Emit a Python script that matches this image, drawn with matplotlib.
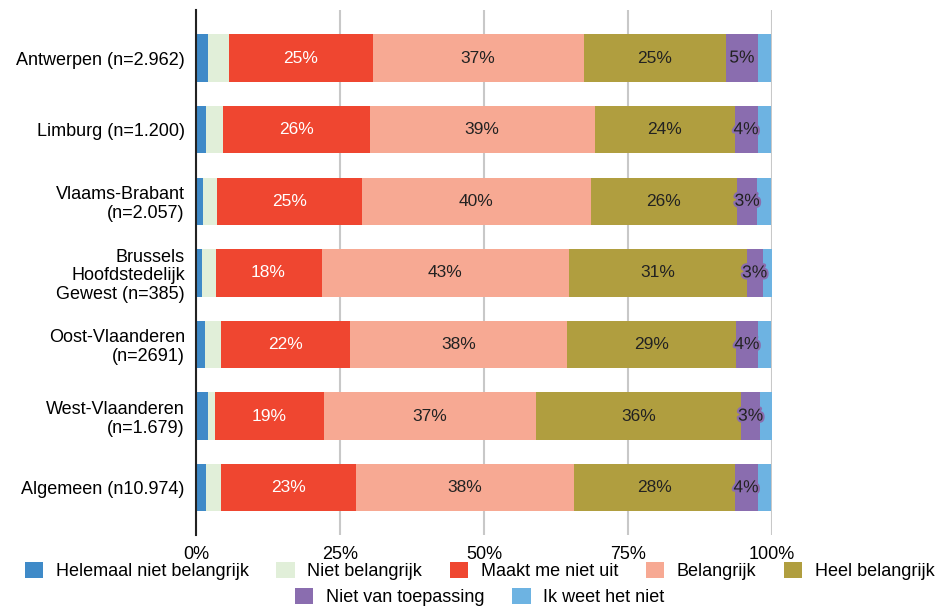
import matplotlib.pyplot as plt
import matplotlib.patheffects as pe
import numpy as np

plt.rcParams['font.family'] = ['Liberation Sans', 'DejaVu Sans']

# ── data (percentages) ──
provincies = [
    "Antwerpen (n=2.962)",
    "Limburg (n=1.200)",
    "Vlaams-Brabant\n(n=2.057)",
    "Brussels\nHoofdstedelijk\nGewest (n=385)",
    "Oost-Vlaanderen\n(n=2691)",
    "West-Vlaanderen\n(n=1.679)",
    "Algemeen (n10.974)",
]
categorieen = [
    "Helemaal niet belangrijk",
    "Niet belangrijk",
    "Maakt me niet uit",
    "Belangrijk",
    "Heel belangrijk",
    "Niet van toepassing",
    "Ik weet het niet",
]
helemaal_niet = [2.1, 1.7, 1.2, 1.0, 1.6, 2.1, 1.7]
niet_belangrijk = [3.6, 3.0, 2.4, 2.4, 2.8, 1.2, 2.6]
maakt_niet_uit = [25.0, 25.5, 25.3, 18.4, 22.4, 18.9, 23.4]
belangrijk = [36.6, 39.0, 39.6, 42.9, 37.6, 36.8, 38.0]
heel_belangrijk = [24.8, 24.3, 25.5, 30.9, 29.3, 35.6, 27.8]
niet_toepassing = [5.4, 4.0, 3.4, 2.8, 3.9, 3.4, 4.0]
weet_niet = [2.4, 2.4, 2.5, 1.6, 2.3, 2.0, 2.3]

reeksen = [helemaal_niet, niet_belangrijk, maakt_niet_uit, belangrijk,
           heel_belangrijk, niet_toepassing, weet_niet]
kleuren = ["#3F8AC8", "#E1EFD9", "#EF4630", "#F7A993",
           "#B09E3F", "#8A6DAF", "#6DB3E2"]

# ── plot ──
fig = plt.figure(figsize=(9.39, 6.07), dpi=100)
ax = fig.add_axes([0.2087, 0.1186, 0.6134, 0.8649])

y = np.arange(len(provincies))
links = np.zeros(len(provincies))
balken = []
for i, (vals, kleur) in enumerate(zip(reeksen, kleuren)):
    vals = np.array(vals)
    b = ax.barh(y, vals, left=links, height=0.66, color=kleur,
                label=categorieen[i], zorder=3)
    balken.append(b)
    # labels enkel op de middelste reeksen
    if i in (2, 3, 4, 5):
        for yi, l, v in zip(y, links, vals):
            tekst = f"{v:.0f}%"
            kw = dict(ha="center", va="center", fontsize=12.5, zorder=4)
            if i == 2:
                ax.text(l + v / 2, yi, tekst, color="white", **kw)
            elif i == 5:
                ax.text(l + v / 2, yi, tekst, color="#222222",
                        path_effects=[pe.withStroke(linewidth=3, foreground=kleur)], **kw)
            else:
                ax.text(l + v / 2, yi, tekst, color="#222222", **kw)
    links = links + vals

ax.set_xlim(0, 100)
ax.set_ylim(6.66, -0.67)
ax.set_yticks(y)
ax.set_yticklabels(provincies, fontsize=13, linespacing=1.12)
ax.set_xticks([0, 25, 50, 75, 100])
ax.set_xticklabels(["0%", "25%", "50%", "75%", "100%"], fontsize=13)
ax.tick_params(axis="both", length=0, pad=8)
ax.xaxis.grid(True, color="#C8C8C8", linewidth=1.5, zorder=0)
for s in ["top", "right", "bottom"]:
    ax.spines[s].set_visible(False)
ax.spines["left"].set_color("#222222")
ax.spines["left"].set_linewidth(1.5)
ax.spines["left"].set_zorder(5)

fig.legend(balken[:5], categorieen[:5], loc="center", ncol=5,
           bbox_to_anchor=(0.511, 0.059), frameon=False, fontsize=13,
           handlelength=1.0, handleheight=1.0, handletextpad=0.7,
           columnspacing=1.55, borderaxespad=0)
fig.legend(balken[5:], categorieen[5:], loc="center", ncol=2,
           bbox_to_anchor=(0.511, 0.017), frameon=False, fontsize=13,
           handlelength=1.0, handleheight=1.0, handletextpad=0.7,
           columnspacing=1.55, borderaxespad=0)

fig.savefig("out.png", dpi=100)
